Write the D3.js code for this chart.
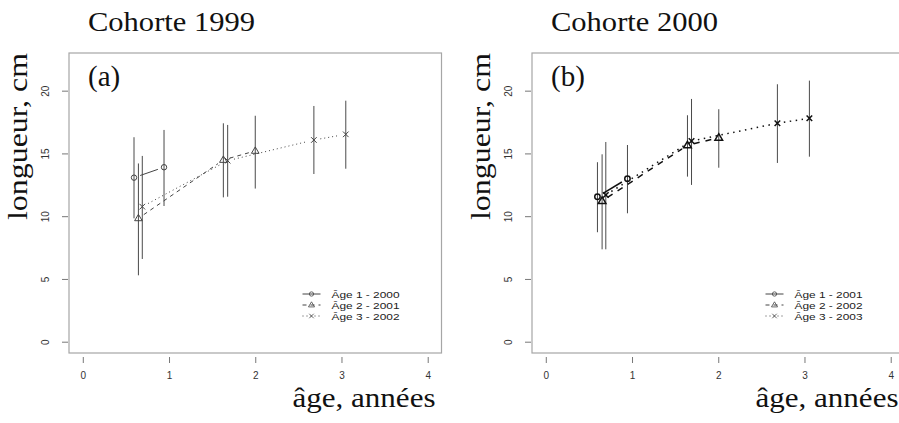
<!DOCTYPE html>
<html><head><meta charset="utf-8">
<script src="https://cdn.jsdelivr.net/npm/d3@7"></script>
<style>body{margin:0;background:#fff}svg{display:block}</style>
</head><body>
<script>
// ---- Data ----
const panelTitles = ["Cohorte 1999", "Cohorte 2000"];
const panelTags = ["(a)", "(b)"];
const legendA = ["Âge 1 - 2000", "Âge 2 - 2001", "Âge 3 - 2002"];
const legendB = ["Âge 1 - 2001", "Âge 2 - 2002", "Âge 3 - 2003"];
const xTicks = [0, 1, 2, 3, 4];
const yTicks = [0, 5, 10, 15, 20];

// Cohorte 1999
const a1_age = [0.594, 0.942];
const a1_len = [13.07, 13.9];
const a1_lo  = [9.83, 10.81];
const a1_hi  = [16.29, 16.87];
const a2_age = [0.645, 1.63, 2.0];
const a2_len = [9.83, 14.48, 15.2];
const a2_lo  = [5.29, 11.5, 12.2];
const a2_hi  = [14.2, 17.4, 18.0];
const a3_age = [0.69, 1.68, 2.68, 3.05];
const a3_len = [10.76, 14.42, 16.07, 16.52];
const a3_lo  = [6.59, 11.55, 13.36, 13.78];
const a3_hi  = [14.8, 17.27, 18.78, 19.2];

// Cohorte 2000
const b1_age = [0.599, 0.947];
const b1_len = [11.55, 12.99];
const b1_lo  = [8.72, 10.23];
const b1_hi  = [14.3, 15.67];
const b2_age = [0.653, 1.643, 2.006];
const b2_len = [11.21, 15.65, 16.25];
const b2_lo  = [7.36, 13.15, 13.86];
const b2_hi  = [14.93, 18.04, 18.52];
const b3_age = [0.696, 1.69, 2.686, 3.057];
const b3_len = [11.69, 15.99, 17.4, 17.8];
const b3_lo  = [7.36, 12.49, 14.24, 14.74];
const b3_hi  = [15.91, 19.34, 20.51, 20.8];

function mk(age, len, lo, hi){ return age.map((a,i)=>({x:a,y:len[i],lo:lo[i],hi:hi[i]})); }
const panels = [
  {title: panelTitles[0], tag: panelTags[0], legend: legendA, left: 69, lw: 1, col: "#444",
   series: [mk(a1_age,a1_len,a1_lo,a1_hi), mk(a2_age,a2_len,a2_lo,a2_hi), mk(a3_age,a3_len,a3_lo,a3_hi)]},
  {title: panelTitles[1], tag: panelTags[1], legend: legendB, left: 532, lw: 1.5, col: "#111",
   series: [mk(b1_age,b1_len,b1_lo,b1_hi), mk(b2_age,b2_len,b2_lo,b2_hi), mk(b3_age,b3_len,b3_lo,b3_hi)]}
];

const W = 899, H = 423;
const svg = d3.select("body").append("svg").attr("width", W).attr("height", H);
const serif = "'Liberation Serif', 'DejaVu Serif', serif";
const sans = "'Liberation Sans', Arial, sans-serif";
const dashes = [null, (lw)=>`${4*lw},${4*lw}`, (lw)=>`${1*lw},${3*lw}`];
const plotTop = 53, plotBottom = 353, pw = 372.5;

function marker(g, type, cx, cy, col, lw){
  if (type === 0) {
    g.append("circle").attr("cx",cx).attr("cy",cy).attr("r",2.7)
      .attr("fill","none").attr("stroke",col).attr("stroke-width",lw);
  } else if (type === 1) {
    const s = 4;
    g.append("path").attr("d",`M${cx},${cy-s}L${cx+s*0.95},${cy+s*0.6}L${cx-s*0.95},${cy+s*0.6}Z`)
      .attr("fill","none").attr("stroke",col).attr("stroke-width",lw);
  } else {
    const s = 2.8;
    g.append("path").attr("d",`M${cx-s},${cy-s}L${cx+s},${cy+s}M${cx-s},${cy+s}L${cx+s},${cy-s}`)
      .attr("fill","none").attr("stroke",col).attr("stroke-width",lw);
  }
}

panels.forEach(p => {
  const x = d3.scaleLinear().domain([-0.16, 4.16]).range([p.left, p.left + pw]);
  const y = d3.scaleLinear().domain([-0.9, 23.0]).range([plotBottom, plotTop]);
  const g = svg.append("g");
  const clipId = "clip" + p.left;
  svg.append("clipPath").attr("id", clipId).append("rect")
     .attr("x", p.left).attr("y", plotTop).attr("width", pw).attr("height", plotBottom - plotTop);

  // box
  g.append("rect").attr("x", p.left).attr("y", plotTop).attr("width", pw).attr("height", plotBottom - plotTop)
    .attr("fill","none").attr("stroke","#a6a6a6").attr("stroke-width",1.2);

  // x axis ticks
  const xa = g.append("g").attr("transform", `translate(0,${plotBottom + 4})`)
    .call(d3.axisBottom(x).tickValues(xTicks).tickSize(6).tickPadding(9).tickFormat(d3.format("d")));
  xa.select(".domain").remove();
  xa.selectAll("line").attr("stroke","#777");
  xa.selectAll("text").attr("font-family", sans).attr("font-size", 10).attr("fill","#333");

  // y axis ticks
  const ya = g.append("g").attr("transform", `translate(${p.left - 1},0)`)
    .call(d3.axisLeft(y).tickValues(yTicks).tickSize(6).tickPadding(0).tickFormat(d3.format("d")));
  ya.select(".domain").remove();
  ya.selectAll("line").attr("stroke","#777");
  ya.selectAll("text").remove();
  ya.selectAll(".tick").append("text")
    .attr("transform", "translate(-19,0) rotate(-90)")
    .attr("text-anchor","middle").attr("dy", 0)
    .attr("font-family", sans).attr("font-size", 10).attr("fill","#333")
    .text(d => d);

  // title
  svg.append("text").attr("x", p.left + 19).attr("y", 31)
    .attr("font-family", serif).attr("font-size", 28).attr("fill","#111")
    .attr("textLength", 167).attr("lengthAdjust","spacingAndGlyphs").text(p.title);
  // tag
  svg.append("text").attr("x", p.left + 19).attr("y", 86)
    .attr("font-family", serif).attr("font-size", 29).attr("fill","#111").text(p.tag);
  // x label
  svg.append("text").attr("x", p.left + pw - 6).attr("y", 407)
    .attr("text-anchor","end")
    .attr("font-family", serif).attr("font-size", 28).attr("fill","#111")
    .attr("textLength", 143).attr("lengthAdjust","spacingAndGlyphs").text("âge, années");
  // y label
  svg.append("text").attr("transform", `translate(${p.left - 42},${plotTop}) rotate(-90)`)
    .attr("text-anchor","end")
    .attr("font-family", serif).attr("font-size", 28).attr("fill","#111")
    .attr("textLength", 167).attr("lengthAdjust","spacingAndGlyphs").text("longueur, cm");

  const pg = g.append("g").attr("clip-path", `url(#${clipId})`);
  // error bars
  p.series.forEach(s => {
    s.forEach(d => {
      pg.append("line").attr("x1", x(d.x)).attr("x2", x(d.x)).attr("y1", y(d.lo)).attr("y2", y(d.hi))
        .attr("stroke","#4a4a4a").attr("stroke-width",1);
    });
  });
  // lines (type "b": gaps at points)
  const gap = 6.5;
  p.series.forEach((s, si) => {
    for (let i = 0; i < s.length - 1; i++) {
      const x0 = x(s[i].x), y0 = y(s[i].y), x1 = x(s[i+1].x), y1 = y(s[i+1].y);
      const L = Math.hypot(x1-x0, y1-y0);
      if (L <= 2*gap) continue;
      const ux = (x1-x0)/L, uy = (y1-y0)/L;
      const ln = pg.append("line")
        .attr("x1", x0 + ux*gap).attr("y1", y0 + uy*gap)
        .attr("x2", x1 - ux*gap).attr("y2", y1 - uy*gap)
        .attr("stroke", p.col).attr("stroke-width", p.lw);
      if (dashes[si]) ln.attr("stroke-dasharray", dashes[si](p.lw));
    }
    s.forEach(d => marker(pg, si, x(d.x), y(d.y), p.col, p.lw));
  });

  // legend
  const lx = p.left + pw - 139;
  const lg = svg.append("g");
  p.legend.forEach((t, i) => {
    const ly = 294 + i * 11;
    const ln = lg.append("line").attr("x1", lx).attr("x2", lx + 18).attr("y1", ly).attr("y2", ly)
      .attr("stroke", "#444").attr("stroke-width", 1);
    if (dashes[i]) ln.attr("stroke-dasharray", dashes[i](1));
    const mg = lg.append("g").attr("transform", `translate(${lx+9},${ly}) scale(0.8)`);
    marker(mg, i, 0, 0, "#444", 1);
    lg.append("text").attr("x", lx + 29).attr("y", ly + 3.8)
      .attr("font-family", sans).attr("font-size", 9.7).attr("fill","#222")
      .attr("textLength", 68).attr("lengthAdjust","spacingAndGlyphs").text(t);
  });
});
</script>
</body></html>
